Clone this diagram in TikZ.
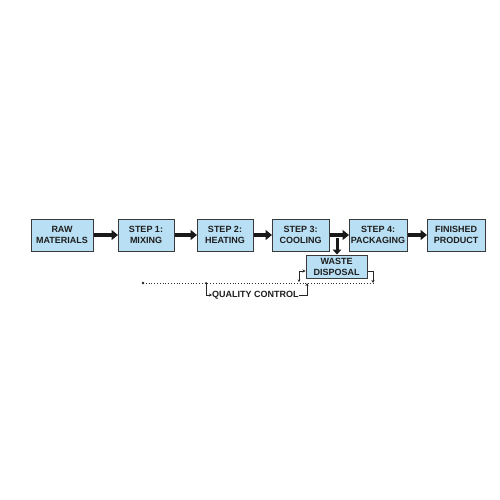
\documentclass[tikz,border=0pt]{standalone}
\usepackage{fontspec}
\setmainfont{Liberation Sans}
\usetikzlibrary{arrows.meta}
\definecolor{boxfill}{HTML}{B8DFF3}
\definecolor{boxline}{HTML}{3A3A3A}
\definecolor{txt}{HTML}{1E1E1E}
\tikzset{
  procbox/.style={draw=boxline, line width=1pt, fill=boxfill, text=txt,
    font=\bfseries\fontsize{9}{11}\selectfont, align=center,
    minimum height=32pt, inner sep=0pt},
  flowarrow/.style={line width=3.4pt, draw=black!90,
    -{Triangle[length=6.5pt,width=10pt]}, shorten >=-0.5pt},
  thinline/.style={line width=0.7pt, draw=black!85},
  smalltip/.style={-{Stealth[length=3pt,width=3pt]}},
  dotline/.style={line width=0.8pt, draw=black!80, dotted}
}
\begin{document}
\begin{tikzpicture}[x=1pt,y=-1pt]
\useasboundingbox[fill=white] (0,0) rectangle (500,500);
\node[procbox, minimum width=62pt] (raw) at (62,235) {RAW\\MATERIALS};
\node[procbox, minimum width=56pt] (s1) at (146,235) {STEP 1:\\MIXING};
\node[procbox, minimum width=56pt] (s2) at (225,235) {STEP 2:\\HEATING};
\node[procbox, minimum width=57pt] (s3) at (300.5,235) {STEP 3:\\COOLING};
\node[procbox, minimum width=58pt] (s4) at (378,235) {STEP 4:\\PACKAGING};
\node[procbox, minimum width=58pt] (fin) at (456,235) {FINISHED\\PRODUCT};
\node[procbox, minimum width=61pt, minimum height=23pt] (waste) at (336.5,266.5) {WASTE\\DISPOSAL};

\draw[flowarrow] (raw) -- (s1);
\draw[flowarrow] (s1) -- (s2);
\draw[flowarrow] (s2) -- (s3);
\draw[flowarrow] (s3) -- (s4);
\draw[flowarrow] (s4) -- (fin);
\coordinate (br) at (337,238);
\draw[line width=3pt, draw=black!90, -{Triangle[length=5pt,width=8.5pt]}] (br) -- (waste.north -| br);

\node[text=txt, font=\bfseries\fontsize{9}{11}\selectfont, inner sep=0pt, anchor=west] (qc) at (212,295) {QUALITY CONTROL};

\coordinate (dl) at (143,283);
\coordinate (jq) at (206,283);
\coordinate (jr) at (307,283);
\coordinate (wl) at (299,282);
\coordinate (rr) at (373,283);

\draw[dotline] (dl) -- (rr);
\fill[black!85] (dl) circle (1.3pt);
\fill[black!85] (jq) circle (1pt);

\draw[thinline, {Stealth[length=2.5pt,width=2.5pt]}-{Stealth[length=3pt,width=3pt]}] (wl) |- (waste.west |- 0,271);
\draw[thinline, smalltip] (waste.east |- 0,271) -| (rr);
\draw[thinline, smalltip] (jq) |- (qc.west);
\draw[thinline, smalltip] (qc.east) -| (jr);
\end{tikzpicture}
\end{document}
